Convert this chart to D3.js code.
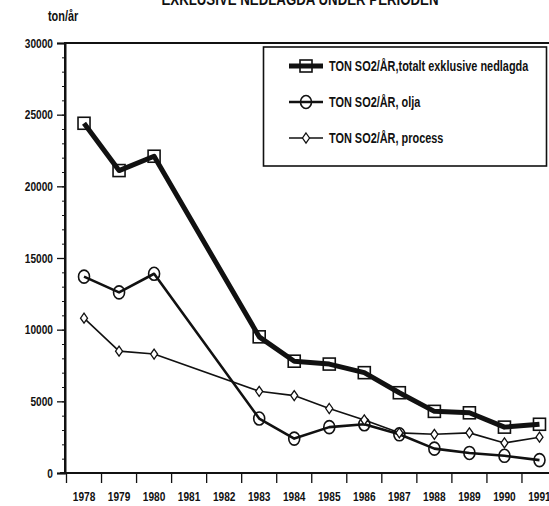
<!DOCTYPE html>
<html lang="sv">
<head>
<meta charset="UTF-8"/>
<title>SO2</title>
<script src="https://cdn.jsdelivr.net/npm/d3@7"></script>
<style>
body { margin: 0; background: #fff; }
text { font-family: "Liberation Sans", Arial, sans-serif; font-weight: bold; fill: #111; }
</style>
</head>
<body>
<script>
var w = 549, h = 506;

var years = [1978, 1979, 1980, 1981, 1982, 1983, 1984, 1985, 1986, 1987, 1988, 1989, 1990, 1991];
var yTicks = [0, 5000, 10000, 15000, 20000, 25000, 30000];

// null = no value that year
var totalt = [24400, 21100, 22100, null, null, 9500, 7800, 7600, 7000, 5600, 4300, 4200, 3200, 3400];
var olja = [13700, 12600, 13900, null, null, 3800, 2400, 3200, 3400, 2700, 1700, 1400, 1200, 900];
var process = [10800, 8500, 8300, null, null, 5700, 5400, 4500, 3700, 2800, 2700, 2800, 2100, 2500];

var seriesNames = ["TON SO2/ÅR,totalt exklusive nedlagda", "TON SO2/ÅR, olja", "TON SO2/ÅR, process"];

var x = d3.scaleBand().domain(years).range([66.5, 557]);
var y = d3.scaleLinear().domain([0, 30000]).range([473, 43]);

var svg = d3.select("body").append("svg")
	.attr("width", w)
	.attr("height", h);

// title (cut off at top in the scan)
svg.append("text")
	.attr("x", 300).attr("y", 5)
	.attr("text-anchor", "middle")
	.attr("font-size", "17px")
	.text("EXKLUSIVE NEDLAGDA UNDER PERIODEN");

svg.append("text")
	.attr("x", 48).attr("y", 21)
	.attr("font-size", "14px")
	.text("ton/år");

// frame
svg.append("rect")
	.attr("x", 65).attr("y", y(30000))
	.attr("width", 500).attr("height", y(0) - y(30000))
	.attr("fill", "none").attr("stroke", "#111").attr("stroke-width", 2);

// y axis
var minor = svg.append("g").attr("transform", "translate(65,0)")
	.call(d3.axisLeft(y).tickValues(d3.range(0, 30001, 1000)).tickSize(3).tickFormat(""));
minor.select(".domain").remove();
minor.selectAll("line").attr("stroke", "#111");

var yAxis = svg.append("g").attr("transform", "translate(65,0)")
	.call(d3.axisLeft(y).tickValues(yTicks).tickSize(8).tickPadding(4).tickFormat(d3.format("d")));
yAxis.select(".domain").attr("stroke", "#111").attr("stroke-width", 2);
yAxis.selectAll("line").attr("stroke", "#111").attr("stroke-width", 1.3);
yAxis.selectAll("text").attr("font-size", "13px").attr("fill", "#111");

// x axis: ticks at band edges, labels centred
var xAxis = svg.append("g").attr("transform", "translate(0," + y(0) + ")");
xAxis.append("line").attr("x1", 60).attr("x2", 557).attr("stroke", "#111").attr("stroke-width", 2);
xAxis.selectAll(".tk").data(years).enter().append("line")
	.attr("x1", function(d) { return x(d); })
	.attr("x2", function(d) { return x(d); })
	.attr("y1", 0).attr("y2", 10)
	.attr("stroke", "#111").attr("stroke-width", 1.3);
xAxis.selectAll(".lb").data(years).enter().append("text")
	.attr("x", function(d) { return x(d) + x.bandwidth() / 2; })
	.attr("y", 28)
	.attr("text-anchor", "middle")
	.attr("font-size", "13px")
	.text(function(d) { return d; });

// null years are just skipped, lines join across the gap
function clean(arr) {
	var pts = [];
	arr.forEach(function(d, i) { if (d !== null) pts.push([x(years[i]) + x.bandwidth() / 2, y(d)]); });
	return pts;
}

var styles = [
	{ data: totalt, width: 5, marker: "square" },
	{ data: olja, width: 2.6, marker: "circle" },
	{ data: process, width: 1.6, marker: "diamond" }
];

function drawMarker(g, type, px, py) {
	if (type === "square") {
		g.append("rect").attr("x", px - 6).attr("y", py - 6).attr("width", 12).attr("height", 12)
			.attr("fill", "none").attr("stroke", "#111").attr("stroke-width", 1.6);
	} else if (type === "circle") {
		g.append("ellipse").attr("cx", px).attr("cy", py).attr("rx", 5.5).attr("ry", 6.5)
			.attr("fill", "none").attr("stroke", "#111").attr("stroke-width", 1.6);
	} else {
		g.append("path")
			.attr("d", "M" + px + "," + (py - 5) + "L" + (px + 3.5) + "," + py + "L" + px + "," + (py + 5) + "L" + (px - 3.5) + "," + py + "Z")
			.attr("fill", "#fff").attr("stroke", "#111").attr("stroke-width", 1.3);
	}
}

styles.forEach(function(s) {
	var pts = clean(s.data);
	svg.append("path")
		.attr("d", d3.line()(pts))
		.attr("fill", "none")
		.attr("stroke", "#111")
		.attr("stroke-width", s.width)
		.attr("stroke-linejoin", "round");
	var g = svg.append("g");
	pts.forEach(function(p) { drawMarker(g, s.marker, p[0], p[1]); });
});

// legend
var lg = svg.append("g");
lg.append("rect")
	.attr("x", 263.5).attr("y", 47).attr("width", 283).attr("height", 119)
	.attr("fill", "#fff").attr("stroke", "#111").attr("stroke-width", 1.6);
var legendY = [66, 102, 138];
styles.forEach(function(s, i) {
	lg.append("line").attr("x1", 289).attr("x2", 323)
		.attr("y1", legendY[i]).attr("y2", legendY[i])
		.attr("stroke", "#111").attr("stroke-width", s.width);
	drawMarker(lg, s.marker, 306, legendY[i]);
	lg.append("text").attr("x", 329).attr("y", legendY[i] + 5)
		.attr("font-size", "14px")
		.text(seriesNames[i]);
});

// the scan uses a condensed face: squeeze every text horizontally around its anchor
svg.selectAll("text").each(function() {
	var t = d3.select(this);
	var tx = +t.attr("x") || 0, ty = +t.attr("y") || 0;
	var sx = 0.78;
	t.attr("transform", (t.attr("transform") || "") + " translate(" + tx + "," + ty + ") scale(" + sx + ",1) translate(" + (-tx) + "," + (-ty) + ")");
});
</script>
</body>
</html>
